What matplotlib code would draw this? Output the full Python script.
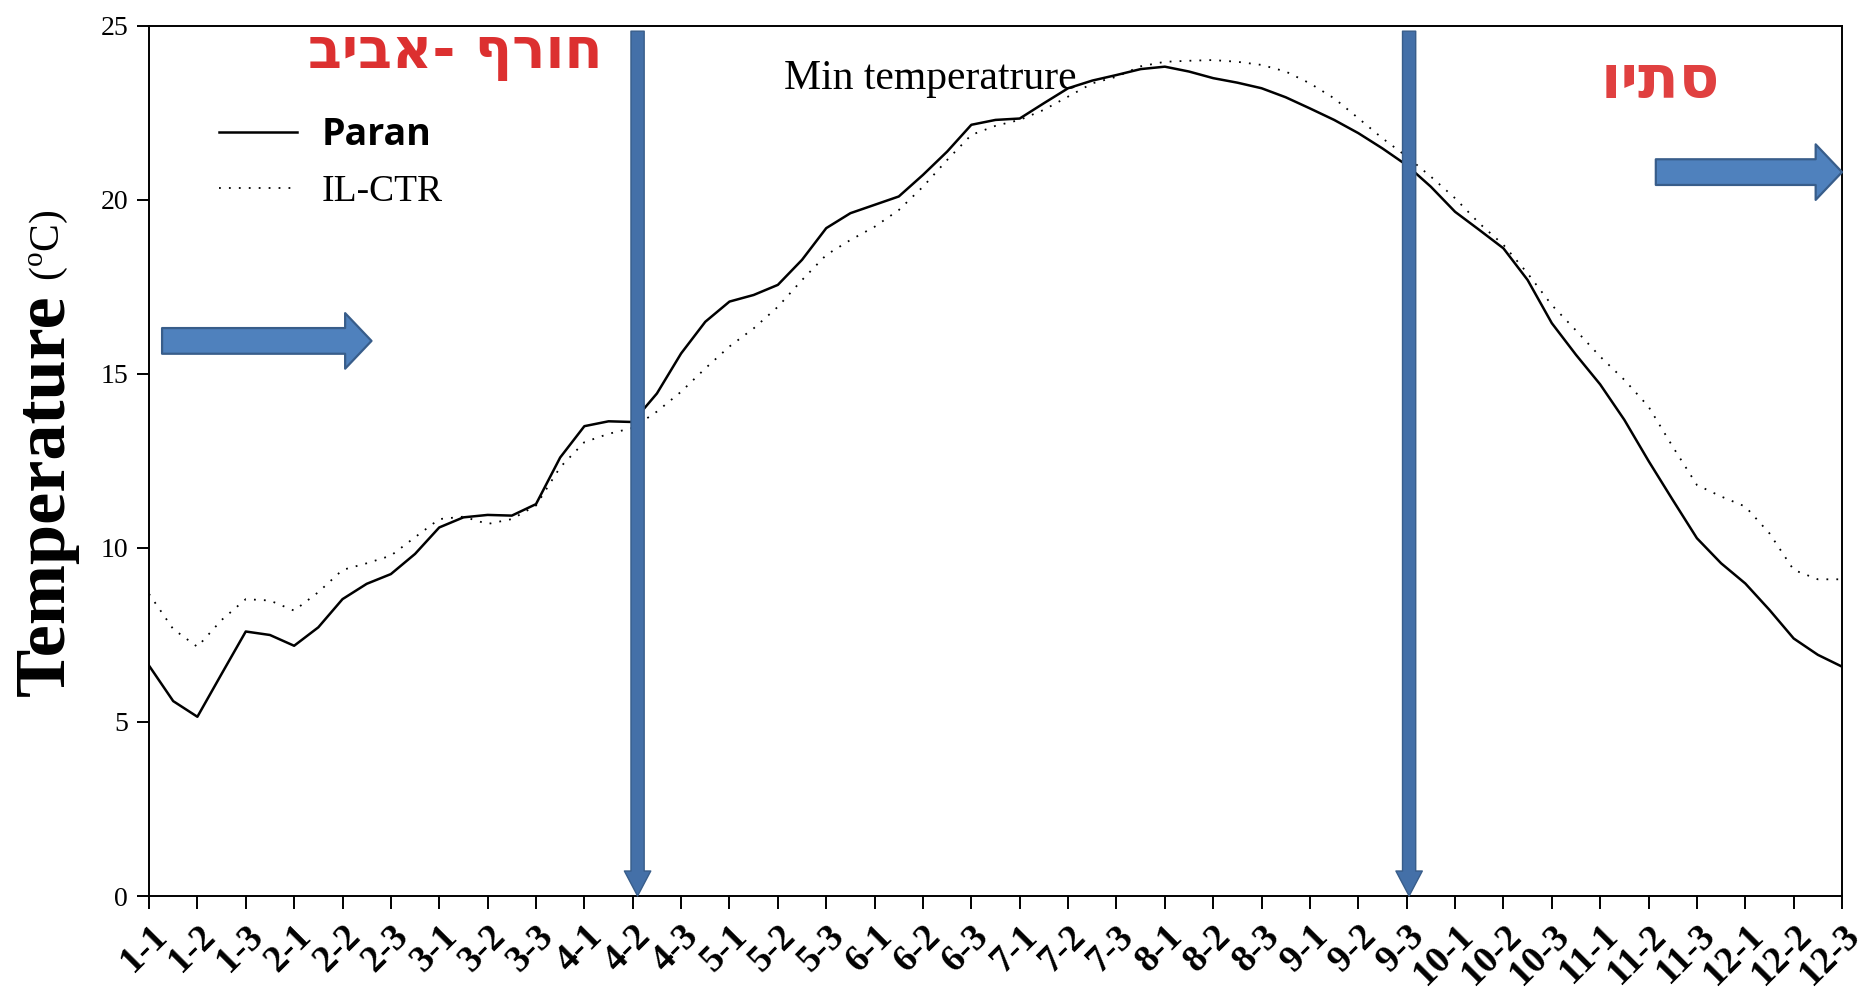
import numpy as np
import matplotlib
matplotlib.use("Agg")
import matplotlib.pyplot as plt
from matplotlib.patches import FancyArrowPatch, ArrowStyle

plt.rcParams["font.family"] = ["Liberation Serif", "DejaVu Serif"]
plt.rcParams["mathtext.fontset"] = "custom"
plt.rcParams["mathtext.rm"] = "Liberation Serif"

# ten-day periods: month-decade
tick_labels = [f"{m}-{d}" for m in range(1, 13) for d in (1, 2, 3)]

# readings every half period, from 1-1 to 12-3
paran = [6.62, 5.6, 5.15, 6.38, 7.6, 7.5, 7.19, 7.72, 8.53, 8.97,
         9.25, 9.83, 10.59, 10.88, 10.95, 10.93, 11.26, 12.6, 13.5, 13.64,
         13.62, 14.44, 15.59, 16.5, 17.08, 17.27, 17.56, 18.28, 19.19, 19.62,
         19.86, 20.1, 20.72, 21.39, 22.16, 22.3, 22.34, 22.78, 23.21, 23.43,
         23.59, 23.76, 23.83, 23.69, 23.5, 23.37, 23.21, 22.95, 22.63, 22.3,
         21.92, 21.48, 21.0, 20.38, 19.66, 19.14, 18.61, 17.7, 16.46, 15.55,
         14.7, 13.68, 12.5, 11.38, 10.28, 9.56, 8.98, 8.22, 7.4, 6.93, 6.59]
il_ctr = [8.68, 7.67, 7.16, 7.93, 8.53, 8.49, 8.2, 8.73, 9.37, 9.56,
          9.78, 10.31, 10.83, 10.9, 10.69, 10.83, 11.22, 12.32, 13.04, 13.28,
          13.45, 13.92, 14.49, 15.16, 15.79, 16.31, 16.93, 17.7, 18.42, 18.85,
          19.23, 19.71, 20.38, 21.15, 21.87, 22.13, 22.3, 22.59, 22.97, 23.35,
          23.54, 23.84, 23.97, 24.0, 24.02, 23.97, 23.88, 23.69, 23.35, 22.92,
          22.35, 21.77, 21.25, 20.67, 20.05, 19.33, 18.71, 17.89, 16.98, 16.25,
          15.5, 14.83, 14.06, 12.91, 11.81, 11.48, 11.19, 10.42, 9.37, 9.1, 9.1]

x_half = np.arange(len(paran)) * 0.5

fig = plt.figure(figsize=(18.72, 9.98), dpi=100)
ax = fig.add_axes([0.0796, 0.1022, 0.9044, 0.8718])

ax.plot(x_half, paran, color="black", lw=1.8, label="Paran", zorder=3)
ax.plot(x_half, il_ctr, color="black", lw=1.3, linestyle=(0, (1, 4.5)),
        label="IL-CTR", zorder=3)

ax.set_xlim(0, len(tick_labels) - 1)
ax.set_ylim(0, 25)
ax.set_xticks(range(len(tick_labels)))
ax.set_xticklabels(tick_labels, rotation=45, ha="right", rotation_mode="anchor",
                   fontsize=27, fontweight="bold")
ax.set_yticks(range(0, 26, 5))
ax.tick_params(axis="y", labelsize=20, direction="out", length=9, width=1.4, pad=6)
ax.tick_params(axis="x", direction="out", length=9, width=1.4, pad=7)
for s in ax.spines.values():
    s.set_linewidth(1.4)

# season arrows
vstyle = ArrowStyle.Simple(head_length=18, head_width=19, tail_width=9.5)
for xa in (10.1, 26.05):
    ax.add_patch(FancyArrowPatch((xa, 24.85), (xa, 0), arrowstyle=vstyle,
                                 mutation_scale=1, shrinkA=0, shrinkB=0,
                                 fc="#4470A8", ec="#385D8A", lw=1, zorder=5,
                                 clip_on=False))
hstyle = ArrowStyle.Simple(head_length=19, head_width=40, tail_width=18.5)
for (x0, x1, ya) in ((0.27, 4.6, 15.95), (31.15, 35.0, 20.8)):
    ax.add_patch(FancyArrowPatch((x0, ya), (x1, ya), arrowstyle=hstyle,
                                 mutation_scale=1, shrinkA=0, shrinkB=0,
                                 fc="#4F81BD", ec="#385D8A", lw=1.6, zorder=5,
                                 clip_on=False))

ax.text(16.15, 23.2, "Min temperatrure", fontsize=30, ha="center",
        va="baseline", zorder=4)

# Hebrew season names (reversed for left-to-right drawing)
winter_spring = "חורף -אביב"
autumn = "סתיו"
ax.text(6.33, 24.2, winter_spring[::-1], fontsize=40, fontweight="bold",
        family="DejaVu Sans", color="#DC3030", ha="center", va="center")
ax.text(31.24, 23.4, autumn[::-1], fontsize=43, fontweight="bold",
        family="DejaVu Sans", color="#E04040", ha="center", va="center")

leg = ax.legend(loc="upper left", bbox_to_anchor=(0.030, 0.918), frameon=False,
                handlelength=2.1, handletextpad=0.65, labelspacing=0.55,
                borderpad=0, fontsize=27)
t_paran, t_il = leg.get_texts()
t_paran.set_family("Open Sans")
t_paran.set_fontweight("bold")
t_paran.set_fontsize(27)

fig.text(0.0246, 0.504, "Temperature", rotation=90, fontsize=52,
         fontweight="bold", ha="center", va="center")
fig.text(0.026, 0.754, r"($^{\mathrm{o}}$C)", rotation=90, fontsize=30,
         ha="center", va="center")

fig.savefig("out.png", dpi=100)
